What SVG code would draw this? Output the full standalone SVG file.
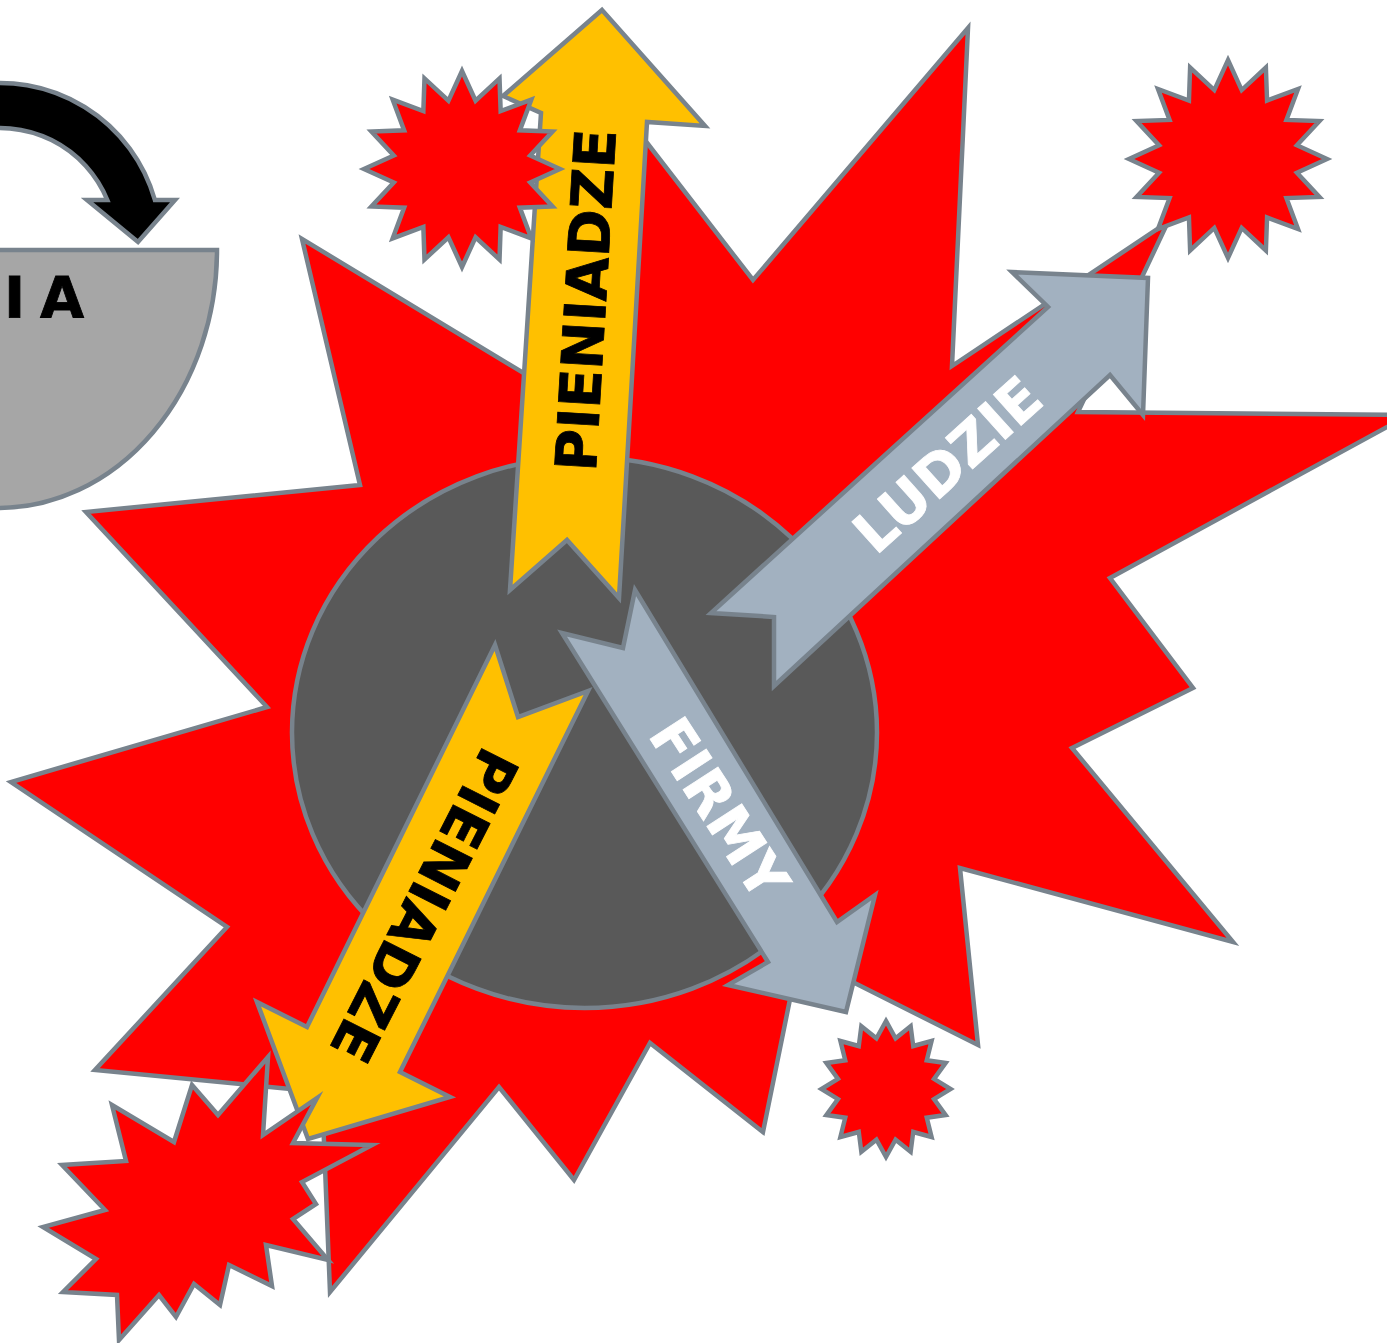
<svg xmlns="http://www.w3.org/2000/svg" xmlns:xlink="http://www.w3.org/1999/xlink" width="1387" height="1343" viewBox="0 0 1387 1343">
<style>
.o{stroke:#78838d;stroke-width:4.5;stroke-linejoin:miter;stroke-miterlimit:20}
.red{fill:#ff0000}
.yel{fill:#ffc000}
.blu{fill:#a2b1c0}
.lbl{font-family:"DejaVu Sans",Verdana,sans-serif;font-weight:bold;font-size:57px}
</style>
<defs>
<polygon id="s16a" points="0,-100 13.85,-69.64 38.27,-92.39 39.45,-59.03 70.71,-70.71 59.03,-39.45 92.39,-38.27 69.64,-13.85 100,0 69.64,13.85 92.39,38.27 59.03,39.45 70.71,70.71 39.45,59.03 38.27,92.39 13.85,69.64 0,100 -13.85,69.64 -38.27,92.39 -39.45,59.03 -70.71,70.71 -59.03,39.45 -92.39,38.27 -69.64,13.85 -100,0 -69.64,-13.85 -92.39,-38.27 -59.03,-39.45 -70.71,-70.71 -39.45,-59.03 -38.27,-92.39 -13.85,-69.64"/>
<polygon id="s16b" points="0,-100 14.83,-74.54 38.27,-92.39 42.22,-63.18 70.71,-70.71 63.18,-42.22 92.39,-38.27 74.54,-14.83 100,0 74.54,14.83 92.39,38.27 63.18,42.22 70.71,70.71 42.22,63.18 38.27,92.39 14.83,74.54 0,100 -14.83,74.54 -38.27,92.39 -42.22,63.18 -70.71,70.71 -63.18,42.22 -92.39,38.27 -74.54,14.83 -100,0 -74.54,-14.83 -92.39,-38.27 -63.18,-42.22 -70.71,-70.71 -42.22,-63.18 -38.27,-92.39 -14.83,-74.54"/>
</defs>
<rect width="1387" height="1343" fill="#ffffff"/>

<g id="explosion">
<polygon class="o red" points="590,69 753,280 968,28 952,366 1168,222 1078,412 1409,415 1110,578 1193,688 1072,748 1233,942 960,868 978,1045 799,955 763,1132 650,1043 574,1180 499,1087 330,1292 322,1092 95,1070 227,927 11,782 267,707 86,512 360,485 302,239 560,395"/>
</g>

<g id="core">
<ellipse class="o" fill="#595959" cx="584.5" cy="732.5" rx="292.5" ry="275.5"/>
</g>

<g id="bowl">
<path class="o" fill="#a6a6a6" d="M -20,250 L 217,250 A 219 258 0 0 1 -2,508 L -20,508 Z"/>
<text class="lbl" x="4 40" y="318" fill="#000000" stroke="#000000" stroke-width="0.8">IA</text>
</g>

<g id="curved-arrow">
<path class="o" fill="#000000" d="M -30,85.8 A 161 161 0 0 1 154.9,200 L 175,200 L 138,242 L 87,200 L 107.3,200 A 116 116 0 0 0 -30,131.9 Z"/>
</g>

<g id="connectors">
<g id="arrow-money-up">
<polygon class="o yel" points="602,10 705,126 647,122 619,598 567,540 510,590 541,113 503,96"/>
<text class="lbl" fill="#000000" stroke="#000000" stroke-width="0.8" text-anchor="middle" y="21" transform="translate(585,300) rotate(-86.6)">PIENIADZE</text>
</g>
<g id="arrow-money-down">
<polygon class="o yel" points="495,645 518,717 588,691 400,1072 450,1097 308,1139 257,1002 307,1027"/>
<text class="lbl" fill="#000000" stroke="#000000" stroke-width="0.8" text-anchor="middle" y="21" transform="translate(425,906) rotate(117)">PIENIADZE</text>
</g>
<g id="arrow-people">
<polygon class="o blu" points="1012,272 1148,278 1143,415 1110,375 774,686 774,617 711,613 1048,307"/>
<text class="lbl" fill="#ffffff" stroke="#ffffff" stroke-width="0.8" text-anchor="middle" y="21" transform="translate(947,464) rotate(-42)">LUDZIE</text>
</g>
<g id="arrow-firms">
<polygon class="o blu" points="635,590 837,922 875,895 846,1012 728,985 768,962 562,633 623,648"/>
<text class="lbl" fill="#ffffff" stroke="#ffffff" stroke-width="0.8" text-anchor="middle" y="21" transform="translate(720,808) rotate(57)">FIRMY</text>
</g>
</g>

<g id="burst-top-left">
<use xlink:href="#s16a" class="red" transform="translate(462,169) scale(0.98)" stroke="#78838d" stroke-width="4.6"/>
</g>
<g id="burst-top-right">
<use xlink:href="#s16a" class="red" transform="translate(1228,159) scale(0.99)" stroke="#78838d" stroke-width="4.5"/>
</g>
<g id="burst-bottom">
<use xlink:href="#s16b" class="red" transform="translate(886,1089) scale(0.645,0.68)" stroke="#78838d" stroke-width="6.8"/>
</g>
<g id="burst-bottom-left">
<polygon class="o red" points="192,1085 218,1115 268,1057 263,1135 317,1098 293,1143 372,1145 302,1182 316,1204 293,1219 328,1260 266,1245 272,1286 229,1265 220,1305 194,1284 176,1317 159,1295 119,1340 117,1295 63,1292 96,1259 43,1227 105,1210 62,1165 126,1161 112,1105 174,1142"/>
</g>
</svg>
